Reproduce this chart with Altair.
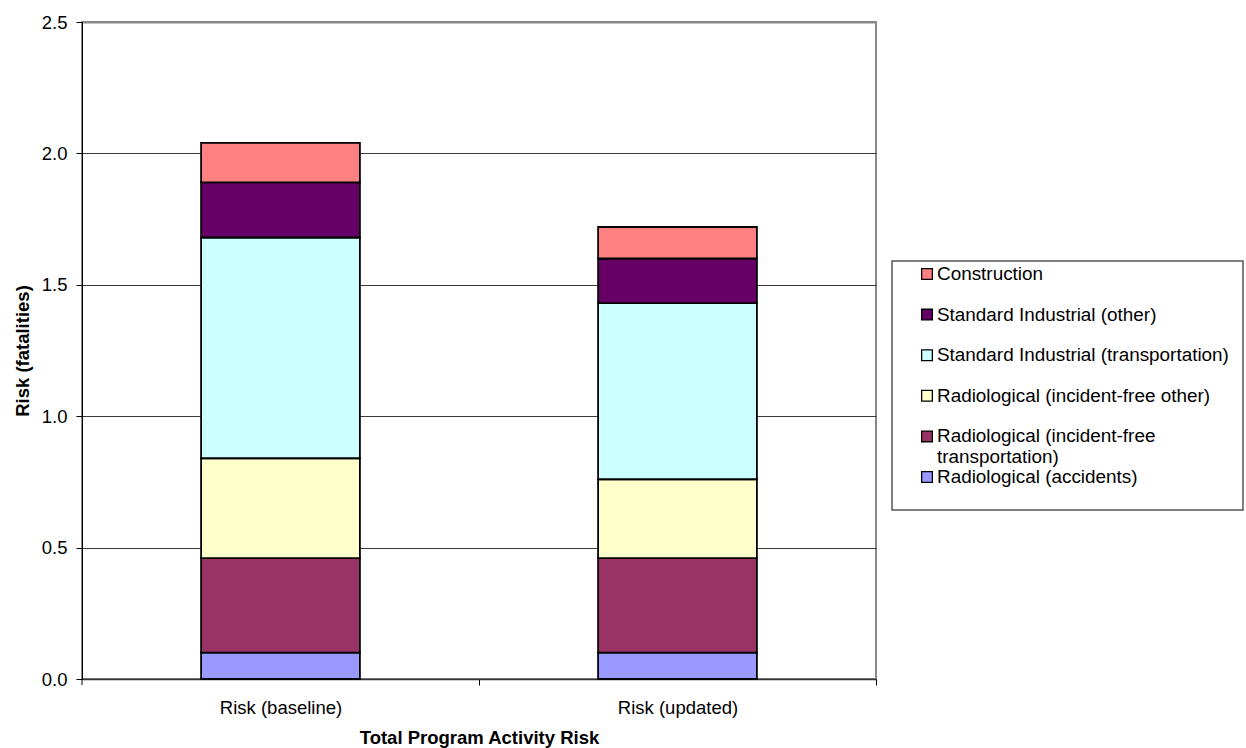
import altair as alt
import pandas as pd

FONT = "Liberation Sans"

# Scenarios on the category axis
scenarios = ["Risk (baseline)", "Risk (updated)"]

# Risk components, stacked bottom to top
components = [
    "Radiological (accidents)",
    "Radiological (incident-free transportation)",
    "Radiological (incident-free other)",
    "Standard Industrial (transportation)",
    "Standard Industrial (other)",
    "Construction",
]

# Fatalities per component (same order as components)
baseline = [0.10, 0.36, 0.38, 0.84, 0.21, 0.15]
updated = [0.10, 0.36, 0.30, 0.67, 0.17, 0.12]

palette = ["#9999FF", "#993366", "#FFFFCC", "#CCFFFF", "#660066", "#FF8080"]

y_ticks = [0.0, 0.5, 1.0, 1.5, 2.0, 2.5]

rows = []
for scen, vals in zip(scenarios, [baseline, updated]):
    for i, (comp, val) in enumerate(zip(components, vals)):
        rows.append({"scenario": scen, "component": comp, "risk": val, "layer": i})
bars_df = pd.DataFrame(rows)

legend_order = components[::-1]
legend_df = pd.DataFrame({
    "component": legend_order,
    "label": [c.replace("incident-free transportation", "incident-free\ntransportation")
              for c in legend_order],
})

W, H = 794, 657
step = W / 2

color = alt.Color("component:N", scale=alt.Scale(domain=components, range=palette), legend=None)

bars = alt.Chart(bars_df).mark_bar(stroke="black", strokeWidth=1.8).encode(
    x=alt.X(
        "scenario:N",
        sort=scenarios,
        scale=alt.Scale(paddingInner=0.6, paddingOuter=0.3),
        axis=alt.Axis(
            title="Total Program Activity Risk",
            labelAngle=0,
            tickOffset=step / 2,
            labelOffset=-step / 2,
            tickSize=6,
            tickColor="black",
            labelPadding=13,
            domainColor="#333333",
            domainWidth=1.5,
            titleY=64,
            titleBaseline="alphabetic",
            grid=False,
        ),
    ),
    y=alt.Y(
        "risk:Q",
        stack="zero",
        scale=alt.Scale(domain=[0, 2.5], nice=False),
        axis=alt.Axis(
            values=y_ticks,
            format=".1f",
            title="Risk (fatalities)",
            tickSize=6,
            tickColor="black",
            labelPadding=9,
            domainColor="black",
            domainWidth=1,
            gridColor={"condition": {"test": "datum.value >= 2.5", "value": "#888888"},
                       "value": "#3a3a3a"},
            gridWidth={"condition": {"test": "datum.value >= 2.5", "value": 2},
                       "value": 1},
            titleX=-54,
            titleY=H / 2,
            titleBaseline="alphabetic",
        ),
    ),
    color=color,
    order=alt.Order("layer:Q", sort="ascending"),
)

one_row = pd.DataFrame({"k": [0]})

# small tick where the category axis starts
corner_tick = alt.Chart(one_row).mark_rule(color="black", strokeWidth=1).encode(
    x=alt.value(0), y=alt.value(H), y2=alt.value(H + 6)
)

legend_box = alt.Chart(one_row).mark_rect(
    fill="white", stroke="#555555", strokeWidth=1.5
).encode(x=alt.value(810), x2=alt.value(1161), y=alt.value(239), y2=alt.value(488))

legend_y = alt.Y(
    "component:N",
    sort=legend_order,
    scale=alt.Scale(type="point", range=[252, 455], padding=0),
    axis=None,
)

legend_keys = alt.Chart(legend_df).mark_square(
    size=115, opacity=1, stroke="black", strokeWidth=1.3
).encode(x=alt.value(845), y=legend_y, color=color)

legend_text = alt.Chart(legend_df).mark_text(
    align="left", baseline="middle", fontSize=18.9, font=FONT,
    lineBreak="\n", lineHeight=21, color="black",
).encode(x=alt.value(855), y=legend_y, text="label:N")

chart = (
    alt.layer(bars, corner_tick, legend_box, legend_keys, legend_text)
    .resolve_scale(y="independent")
    .properties(
        width=W,
        height=H,
        autosize=alt.AutoSizeParams(type="none"),
        padding={"left": 82, "top": 22, "right": 370, "bottom": 69},
        background="white",
    )
    .configure_view(stroke="#888888", strokeWidth=2)
    .configure_axis(
        labelFont=FONT,
        titleFont=FONT,
        labelFontSize=18.5,
        titleFontSize=18.5,
        labelColor="black",
        titleColor="black",
        titleFontWeight="bold",
    )
)

chart.save("out.html", embed_options={"renderer": "svg", "actions": False})
